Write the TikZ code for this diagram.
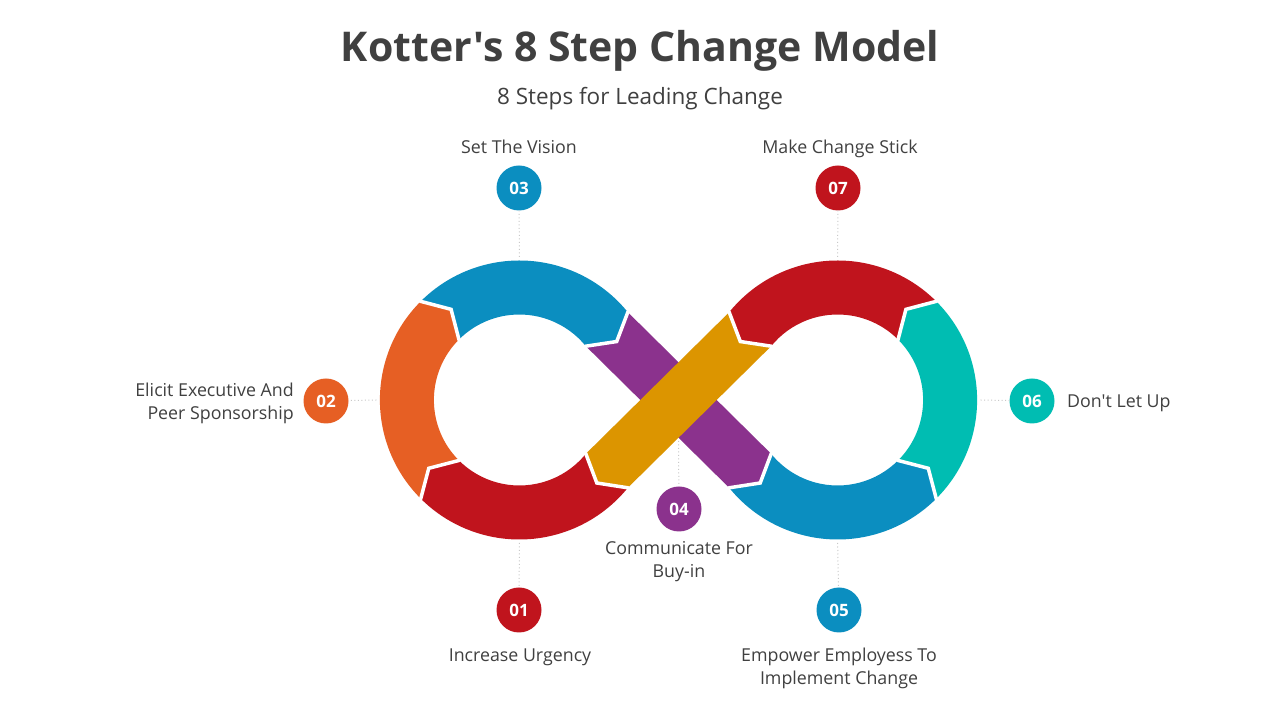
\documentclass[tikz,border=0pt]{standalone}
\usepackage{fontspec}
\setmainfont{Open Sans}[Ligatures=TeXOff]
\usetikzlibrary{calc}
\definecolor{cblue}{HTML}{0B8EC0}
\definecolor{corange}{HTML}{E65F24}
\definecolor{cred}{HTML}{C0141D}
\definecolor{cpurple}{HTML}{8B328D}
\definecolor{cgold}{HTML}{DC9500}
\definecolor{cteal}{HTML}{00BDB2}
\definecolor{textgray}{HTML}{404040}
\definecolor{leadgray}{HTML}{C8C8C8}
\def\Rout{139.5}
\def\Rin{85.5}
\def\Rmid{113.5}
\newcommand\kdivider[3]{%
  \draw[divider] ([shift={(#1)}]#2:147pt) -- ([shift={(#1)}]#2:\Rout pt) -- ([shift={(#1)}]#3:\Rmid pt) -- ([shift={(#1)}]#2:\Rin pt) -- ([shift={(#1)}]#2:78pt);}
\begin{document}
\begin{tikzpicture}[x=1pt,y=1pt,
  divider/.style={draw=white, line width=3.5pt, line join=miter},
  num/.style={circle, minimum size=45pt, inner sep=0pt, text=white, font=\fontsize{17}{17}\selectfont\bfseries},
  lbl/.style={text=textgray, font=\fontsize{17.8}{23}\selectfont, inner sep=0pt},
  leader/.style={draw=leadgray, line width=1pt, dash pattern=on 1pt off 2.5pt}]
\useasboundingbox (0,0) rectangle (1280,720);
\fill[white] (0,0) rectangle (1280,720);

\coordinate (L) at (519.4,320);
\coordinate (Rc) at (837.6,320);

% left loop
\fill[cred] ([shift={(L)}]321:\Rout pt) arc[start angle=321, end angle=225, radius=\Rout pt]
  -- ([shift={(L)}]217:\Rmid pt) -- ([shift={(L)}]225:\Rin pt)
  arc[start angle=225, end angle=321, radius=\Rin pt] -- ([shift={(L)}]313:\Rmid pt) -- cycle;
\fill[corange] ([shift={(L)}]225:\Rout pt) arc[start angle=225, end angle=135, radius=\Rout pt]
  -- ([shift={(L)}]127:\Rmid pt) -- ([shift={(L)}]135:\Rin pt)
  arc[start angle=135, end angle=225, radius=\Rin pt] -- ([shift={(L)}]217:\Rmid pt) -- cycle;
\fill[cblue] ([shift={(L)}]135:\Rout pt) arc[start angle=135, end angle=39, radius=\Rout pt]
  -- ([shift={(L)}]31:\Rmid pt) -- ([shift={(L)}]39:\Rin pt)
  arc[start angle=39, end angle=135, radius=\Rin pt] -- ([shift={(L)}]127:\Rmid pt) -- cycle;
% right loop
\fill[cblue] ([shift={(Rc)}]219:\Rout pt) arc[start angle=219, end angle=315, radius=\Rout pt]
  -- ([shift={(Rc)}]323:\Rmid pt) -- ([shift={(Rc)}]315:\Rin pt)
  arc[start angle=315, end angle=219, radius=\Rin pt] -- ([shift={(Rc)}]227:\Rmid pt) -- cycle;
\fill[cteal] ([shift={(Rc)}]-45:\Rout pt) arc[start angle=-45, end angle=45, radius=\Rout pt]
  -- ([shift={(Rc)}]53:\Rmid pt) -- ([shift={(Rc)}]45:\Rin pt)
  arc[start angle=45, end angle=-45, radius=\Rin pt] -- ([shift={(Rc)}]-37:\Rmid pt) -- cycle;
\fill[cred] ([shift={(Rc)}]45:\Rout pt) arc[start angle=45, end angle=141, radius=\Rout pt]
  -- ([shift={(Rc)}]149:\Rmid pt) -- ([shift={(Rc)}]141:\Rin pt)
  arc[start angle=141, end angle=45, radius=\Rin pt] -- ([shift={(Rc)}]53:\Rmid pt) -- cycle;
% bands
\fill[cpurple] ([shift={(L)}]39:\Rout pt) -- ([shift={(L)}]31:\Rmid pt) -- ([shift={(L)}]39:\Rin pt)
  -- ([shift={(Rc)}]219:\Rout pt) -- ([shift={(Rc)}]227:\Rmid pt) -- ([shift={(Rc)}]219:\Rin pt) -- cycle;
\fill[cgold] ([shift={(Rc)}]141:\Rout pt) -- ([shift={(Rc)}]149:\Rmid pt) -- ([shift={(Rc)}]141:\Rin pt)
  -- ([shift={(L)}]-39:\Rout pt) -- ([shift={(L)}]-47:\Rmid pt) -- ([shift={(L)}]-39:\Rin pt) -- cycle;

% white dividers
\kdivider{L}{321}{313}
\kdivider{L}{225}{217}
\kdivider{L}{135}{127}
\kdivider{L}{39}{31}
\kdivider{Rc}{219}{227}
\kdivider{Rc}{315}{323}
\kdivider{Rc}{45}{53}
\kdivider{Rc}{141}{149}

% title
\node[text=textgray, font=\fontsize{41}{48}\selectfont\bfseries, inner sep=0pt] (title) at (640,669) {Kotter's 8 Step Change Model};
\node[text=textgray, font=\fontsize{22.5}{26}\selectfont, inner sep=0pt] (subtitle) at (640,621) {8 Steps for Leading Change};

% number circles
\node[num, fill=cred] (c01) at (519,110) {01};
\node[num, fill=corange] (c02) at (326,319) {02};
\node[num, fill=cblue] (c03) at (519,532) {03};
\node[num, fill=cpurple] (c04) at (679,211) {04};
\node[num, fill=cblue] (c05) at (839,110) {05};
\node[num, fill=cteal] (c06) at (1032,319) {06};
\node[num, fill=cred] (c07) at (838,532) {07};

% leader anchors on the shape
\coordinate (a01) at ([shift={(L)}]270:143pt);
\coordinate (a02) at ([shift={(L)}]180:143pt);
\coordinate (a03) at ([shift={(L)}]90:143pt);
\coordinate (a04) at (678.5,279);
\coordinate (a05) at ([shift={(Rc)}]270:143pt);
\coordinate (a06) at ([shift={(Rc)}]0:143pt);
\coordinate (a07) at ([shift={(Rc)}]90:143pt);
\draw[leader] (a01) -- (c01);
\draw[leader] (a02) -- (c02);
\draw[leader] (a03) -- (c03);
\draw[leader] (a04) -- (c04);
\draw[leader] (a05) -- (c05);
\draw[leader] (a06) -- (c06);
\draw[leader] (a07) -- (c07);

% labels
\node[lbl, anchor=base] (t03) at (519,566.5) {Set The Vision};
\node[lbl, anchor=base] (t07) at (840,566.5) {Make Change Stick};
\node[lbl, align=right, anchor=east] (t02) at (294,317) {Elicit Executive And\\Peer Sponsorship};
\node[lbl, anchor=base west] (t06) at (1067,312.5) {Don't Let Up};
\node[lbl, anchor=base] (t01) at (520,58.5) {Increase Urgency};
\node[lbl, align=center] (t04) at (679,158) {Communicate For\\Buy-in};
\node[lbl, align=center] (t05) at (839,51.5) {Empower Employess To\\Implement Change};
\end{tikzpicture}
\end{document}
